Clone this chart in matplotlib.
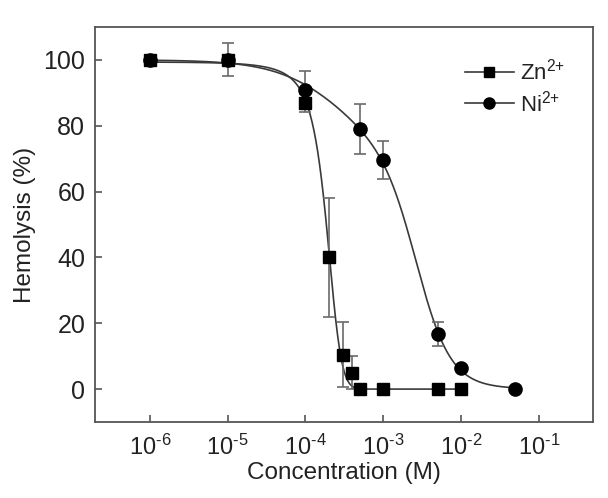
import numpy as np
import matplotlib
matplotlib.use("Agg")
import matplotlib.pyplot as plt

plt.rcParams['font.family'] = ['Liberation Sans', 'DejaVu Sans']
plt.rcParams['mathtext.fontset'] = 'custom'
plt.rcParams['mathtext.rm'] = 'Liberation Sans'
plt.rcParams['mathtext.it'] = 'Liberation Sans'
plt.rcParams['axes.unicode_minus'] = False

# data
zn_conc = [1e-6, 1e-5, 1e-4, 2e-4, 3e-4, 4e-4, 5e-4, 1e-3, 5e-3, 1e-2]
zn_hemo = [100, 100, 87, 40, 10.5, 5, 0, 0, 0, 0]
zn_err = [0, 0, 2.7, 18, 10, 5, 0, 0, 0, 0]

ni_conc = [1e-6, 1e-5, 1e-4, 5e-4, 1e-3, 5e-3, 1e-2, 5e-2]
ni_hemo = [100, 100, 91, 79, 69.5, 16.7, 6.4, 0]
ni_err = [0, 5, 5.5, 7.5, 5.8, 3.7, 0, 0]

x_ticks = [1e-6, 1e-5, 1e-4, 1e-3, 1e-2, 1e-1]
x_ticklabels = [r'10$^{\text{-}6}$', r'10$^{\text{-}5}$', r'10$^{\text{-}4}$',
                r'10$^{\text{-}3}$', r'10$^{\text{-}2}$', r'10$^{\text{-}1}$']

# fitted curve parameters (estimated from the figure)
zn_a1, zn_x0, zn_dx = 101, 1.85e-4, 4.5e-5          # Boltzmann
ni_frac, ni_x01, ni_p1, ni_x02, ni_p2 = 0.3, 3e-4, 1.0, 2.7e-3, 2.0   # two-site dose response

line_col = '#3a3a3a'
err_col = '#6a6a6a'
text_col = '#222222'

fig = plt.figure(figsize=(6.08, 4.98), dpi=100)
ax = fig.add_axes([0.156, 0.1526, 0.819, 0.7932])

xs = np.logspace(-6, -2, 500)
ax.plot(xs, zn_a1 / (1 + np.exp((xs - zn_x0) / zn_dx)), color=line_col, lw=1.2, zorder=2)
xs2 = np.logspace(-6, np.log10(5e-2), 500)
h1 = 1 / (1 + (ni_x01 / xs2) ** ni_p1)
h2 = 1 / (1 + (ni_x02 / xs2) ** ni_p2)
ax.plot(xs2, 100 - 100 * (ni_frac * h1 + (1 - ni_frac) * h2), color=line_col, lw=1.2, zorder=2)

for conc, hemo, err in [(zn_conc, zn_hemo, zn_err), (ni_conc, ni_hemo, ni_err)]:
    c = np.array(conc)
    h = np.array(hemo)
    e = np.array(err)
    m = e > 0
    ax.errorbar(c[m], h[m], yerr=e[m], fmt='none', ecolor=err_col, elinewidth=1.2,
                capsize=4.3, capthick=1.2, zorder=3)

ax.plot(ni_conc, ni_hemo, 'o', color='black', ms=9.5, zorder=4)
ax.plot(zn_conc, zn_hemo, 's', color='black', ms=8.5, zorder=5)

# legend handles
ax.plot([], [], '-s', color=line_col, mfc='black', mec='black', ms=7, lw=1.2, label='Zn$^{2{+}}$')
ax.plot([], [], '-o', color=line_col, mfc='black', mec='black', ms=8, lw=1.2, label='Ni$^{2{+}}$')
leg = ax.legend(loc='upper right', bbox_to_anchor=(0.985, 0.97), frameon=False, fontsize=16,
                handlelength=2.2, handletextpad=0.3, labelspacing=0.25)
for t in leg.get_texts():
    t.set_color(text_col)

ax.set_xscale('log')
ax.set_xlim(10 ** -6.707, 10 ** -0.306)
ax.set_ylim(-10, 110)
ax.set_xticks(x_ticks)
ax.set_xticklabels(x_ticklabels)
ax.minorticks_off()
ax.set_yticks([0, 20, 40, 60, 80, 100])
ax.tick_params(direction='in', length=5, width=1.2, color='#555555', labelcolor=text_col,
               top=False, right=False)
ax.tick_params(axis='x', labelsize=17, pad=9)
ax.tick_params(axis='y', labelsize=18, pad=7)
for s in ax.spines.values():
    s.set_color('#555555')
    s.set_linewidth(1.3)

ax.set_xlabel('Concentration (M)', fontsize=17.5, color=text_col, labelpad=2)
ax.set_ylabel('Hemolysis (%)', fontsize=17.5, color=text_col, labelpad=5)

fig.savefig('out.png', dpi=100)
